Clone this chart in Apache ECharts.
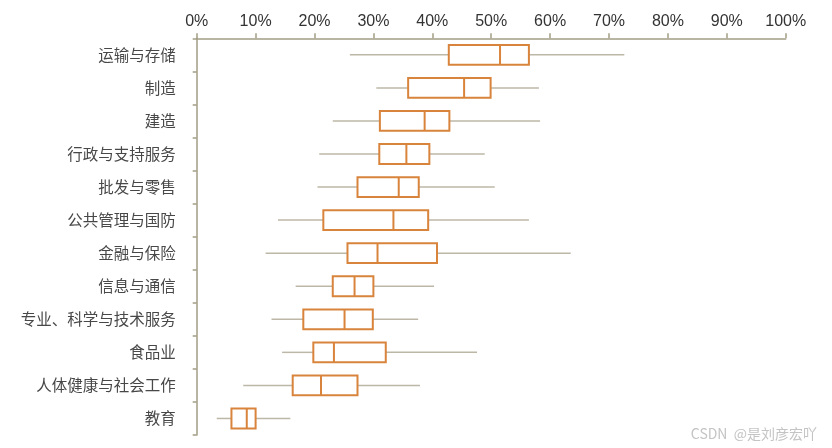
<!DOCTYPE html>
<html>
<head>
<meta charset="utf-8">
<script src="https://cdn.jsdelivr.net/npm/echarts@6/dist/echarts.min.js"></script>
<style>html,body{margin:0;padding:0;background:#fff}#c{width:832px;height:448px}</style>
</head>
<body>
<div id="c"></div>
<script>
var categories = ['运输与存储','制造','建造','行政与支持服务','批发与零售','公共管理与国防','金融与保险','信息与通信','专业、科学与技术服务','食品业','人体健康与社会工作','教育'];
var minValues    = [26.0, 30.5, 23.1, 20.8, 20.5, 13.8, 11.7, 16.8, 12.7, 14.5,  7.9,  3.4];
var q1Values     = [42.8, 35.9, 31.1, 31.0, 27.3, 21.5, 25.6, 23.1, 18.1, 19.8, 16.3,  5.9];
var medianValues = [51.5, 45.4, 38.7, 35.6, 34.3, 33.4, 30.7, 26.8, 25.1, 23.3, 21.1,  8.5];
var q3Values     = [56.4, 49.9, 42.9, 39.5, 37.7, 39.3, 40.8, 30.0, 29.9, 32.1, 27.3, 10.0];
var maxValues    = [72.6, 58.1, 58.3, 48.9, 50.6, 56.4, 63.5, 40.3, 37.6, 47.6, 37.9, 15.9];
var xTicks = [0,10,20,30,40,50,60,70,80,90,100];

var data = categories.map(function (c, i) {
  return [i, minValues[i], q1Values[i], medianValues[i], q3Values[i], maxValues[i]];
});

var axisColor = '#a39d85';
var chart = echarts.init(document.getElementById('c'));
chart.setOption({
  animation: false,
  grid: { left: 196.7, right: 46.3, top: 38.3, bottom: 13, containLabel: false },
  xAxis: {
    type: 'value', position: 'top', min: xTicks[0], max: xTicks[xTicks.length - 1], interval: 10,
    axisLine: { show: true, lineStyle: { color: axisColor, width: 1.5 } },
    axisTick: { show: true, length: 5, lineStyle: { color: axisColor, width: 1.5 } },
    splitLine: { show: false },
    axisLabel: { formatter: '{value}%', color: '#333', fontSize: 16, fontFamily: 'Liberation Sans, Arial, sans-serif', margin: 9 }
  },
  yAxis: {
    type: 'category', data: categories, inverse: true,
    axisLine: { show: true, lineStyle: { color: axisColor, width: 1.5 } },
    axisTick: { show: true, length: 4, lineStyle: { color: axisColor, width: 1.5 } },
    axisLabel: { color: '#484848', fontSize: 15.5, fontFamily: 'Noto Sans CJK SC, sans-serif', margin: 21 }
  },
  series: [{
    type: 'custom',
    data: data,
    encode: { y: 0, x: [1,2,3,4,5] },
    renderItem: function (params, api) {
      var y = api.value(0);
      var pMin = api.coord([api.value(1), y]);
      var pQ1 = api.coord([api.value(2), y]);
      var pMed = api.coord([api.value(3), y]);
      var pQ3 = api.coord([api.value(4), y]);
      var pMax = api.coord([api.value(5), y]);
      var h = api.size([0, 1])[1] * 0.6;
      var cy = pMed[1];
      var orange = '#d9843c';
      var gray = '#bcb7a6';
      return {
        type: 'group',
        children: [
          { type: 'line', shape: { x1: pMin[0], y1: cy, x2: pQ1[0], y2: cy }, style: { stroke: gray, lineWidth: 1.5 } },
          { type: 'line', shape: { x1: pQ3[0], y1: cy, x2: pMax[0], y2: cy }, style: { stroke: gray, lineWidth: 1.5 } },
          { type: 'rect', shape: { x: pQ1[0], y: cy - h / 2, width: pQ3[0] - pQ1[0], height: h }, style: { fill: '#fff', stroke: orange, lineWidth: 2 } },
          { type: 'line', shape: { x1: pMed[0], y1: cy - h / 2, x2: pMed[0], y2: cy + h / 2 }, style: { stroke: orange, lineWidth: 2 } }
        ]
      };
    }
  }],
  graphic: [{
    type: 'text', right: 15, bottom: 7,
    style: { text: 'CSDN  @是刘彦宏吖', fill: '#c4c4c4', fontSize: 14, fontFamily: 'Noto Sans CJK SC, sans-serif' }
  }]
});
</script>
</body>
</html>
